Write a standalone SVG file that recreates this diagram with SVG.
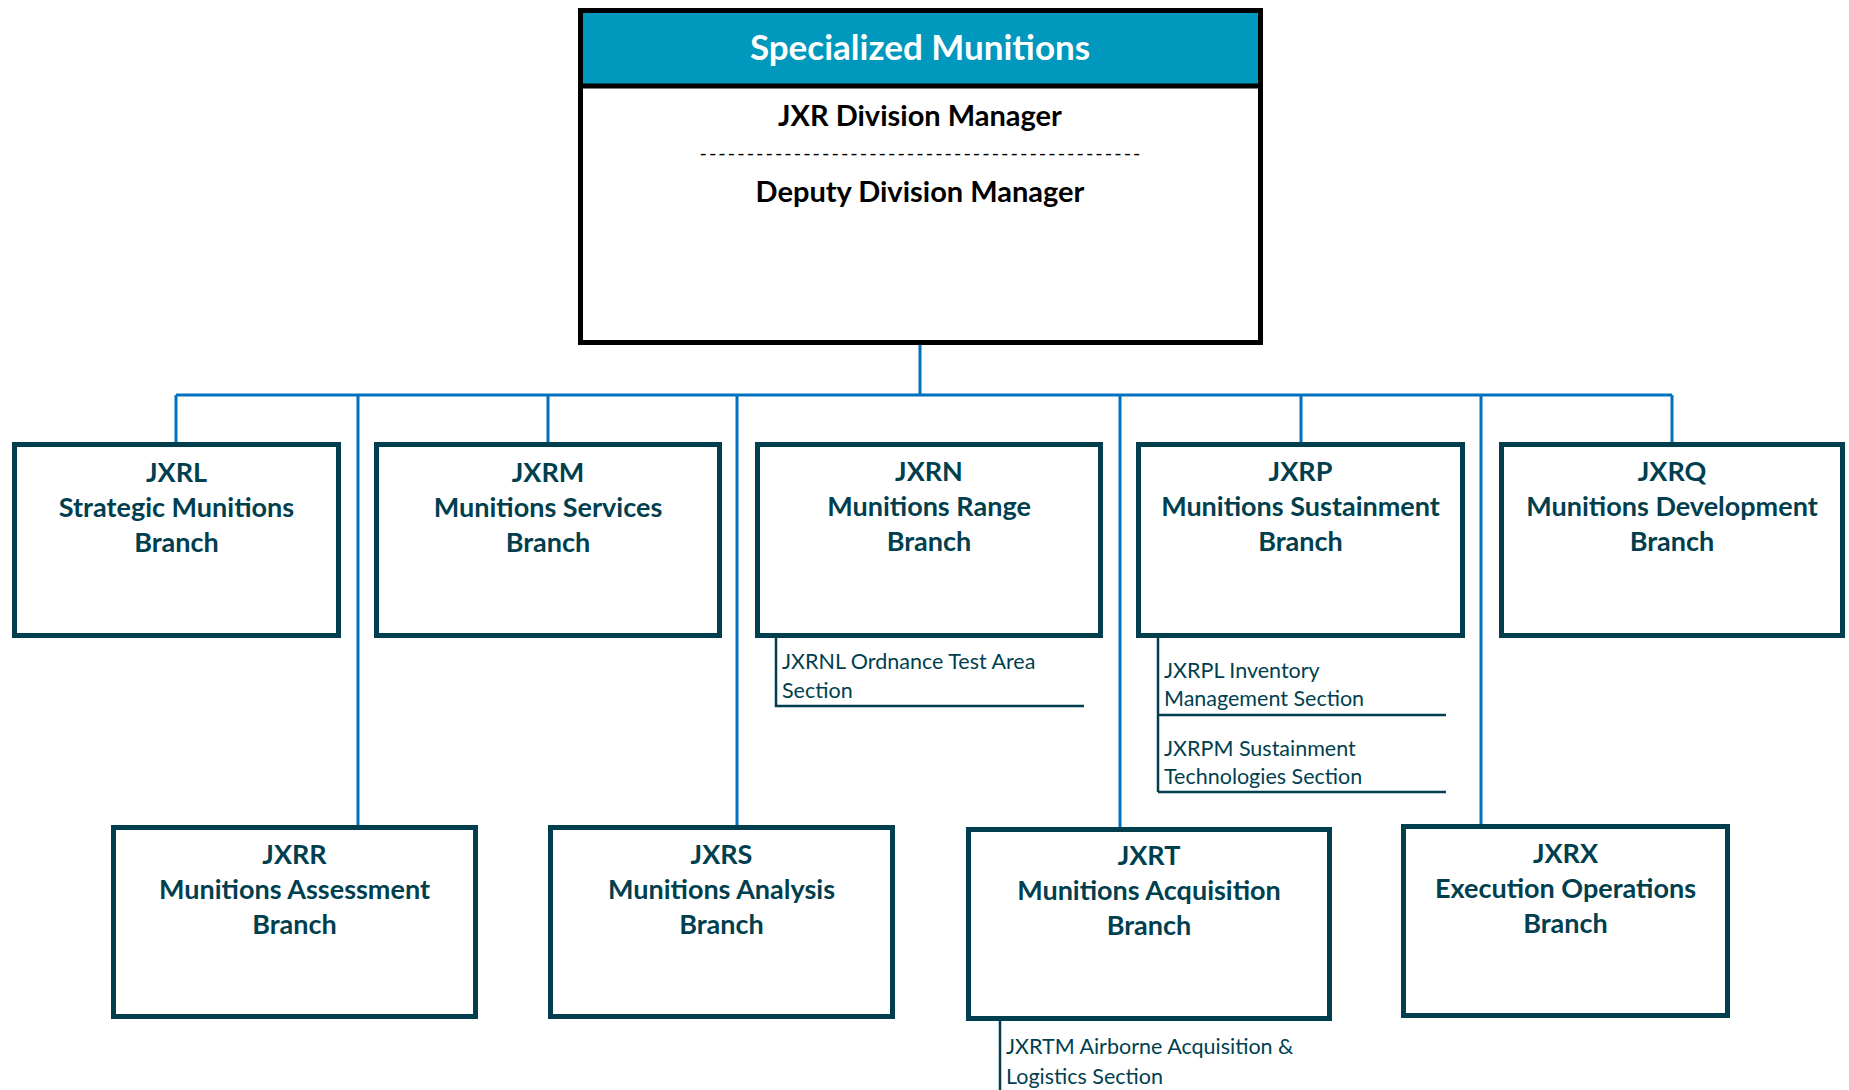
<svg xmlns="http://www.w3.org/2000/svg" width="1849" height="1090" viewBox="0 0 1849 1090">
<style>
.box{fill:#fff;stroke:#013F4F;stroke-width:5}
.t{font-family:Lato,"Liberation Sans",sans-serif;font-weight:bold;font-size:27px;fill:#013F4F;text-anchor:middle}
.s{font-family:Lato,"Liberation Sans",sans-serif;font-size:21.5px;fill:#013F4F}
.con{stroke:#0070C0;stroke-width:3;fill:none}
.br{stroke:#013F4F;stroke-width:2.5;fill:none}
.m{font-family:Lato,"Liberation Sans",sans-serif;font-weight:bold;font-size:29px;fill:#000;text-anchor:middle}
</style>
<rect width="1849" height="1090" fill="#fff"/>
<g id="connectors">
<path class="con" d="M920 345V395M176 395H1672M176 395V443M548 395V443M1301 395V443M1672 395V443M358 395V825M737 395V825M1120 395V827M1481 395V824"/>
</g>
<g id="top">
<rect x="580.5" y="10.5" width="680" height="332" fill="#fff" stroke="#000" stroke-width="5"/>
<rect x="583" y="13" width="675" height="73" fill="#0098BD"/>
<line x1="580" y1="86" x2="1261" y2="86" stroke="#000" stroke-width="5"/>
<text x="920" y="60" font-family="Lato,'Liberation Sans',sans-serif" font-weight="bold" font-size="35" fill="#fff" text-anchor="middle">Specialized Munitions</text>
<text class="m" x="920" y="126">JXR Division Manager</text>
<text x="920" y="160" font-family="Lato,'Liberation Sans',sans-serif" font-size="20" fill="#000" text-anchor="middle" textLength="441" lengthAdjust="spacing">-----------------------------------------------</text>
<text class="m" x="920" y="202">Deputy Division Manager</text>
</g>
<g id="JXRL">
<rect class="box" x="14.5" y="444.5" width="324" height="191"/>
<text class="t" x="176.5" y="482">JXRL</text>
<text class="t" x="176.5" y="517">Strategic Munitions</text>
<text class="t" x="176.5" y="552">Branch</text>
</g>
<g id="JXRM">
<rect class="box" x="376.5" y="444.5" width="343" height="191"/>
<text class="t" x="548" y="482">JXRM</text>
<text class="t" x="548" y="517">Munitions Services</text>
<text class="t" x="548" y="552">Branch</text>
</g>
<g id="JXRN">
<rect class="box" x="757.5" y="444.5" width="343" height="191"/>
<text class="t" x="929" y="481">JXRN</text>
<text class="t" x="929" y="516">Munitions Range</text>
<text class="t" x="929" y="551">Branch</text>
</g>
<g id="JXRNL">
<path class="br" d="M776 637V706H1084"/>
<text class="s" x="782" y="669">JXRNL Ordnance Test Area</text>
<text class="s" x="782" y="698">Section</text>
</g>
<g id="JXRP">
<rect class="box" x="1138.5" y="444.5" width="324" height="191"/>
<text class="t" x="1300.5" y="481">JXRP</text>
<text class="t" x="1300.5" y="516">Munitions Sustainment</text>
<text class="t" x="1300.5" y="551">Branch</text>
</g>
<g id="JXRPL">
<path class="br" d="M1158 638V792M1158 715H1446M1158 792H1446"/>
<text class="s" x="1164" y="678">JXRPL Inventory</text>
<text class="s" x="1164" y="706">Management Section</text>
</g>
<g id="JXRPM">
<text class="s" x="1164" y="756">JXRPM Sustainment</text>
<text class="s" x="1164" y="784">Technologies Section</text>
</g>
<g id="JXRQ">
<rect class="box" x="1501.5" y="444.5" width="341" height="191"/>
<text class="t" x="1672" y="481">JXRQ</text>
<text class="t" x="1672" y="516">Munitions Development</text>
<text class="t" x="1672" y="551">Branch</text>
</g>
<g id="JXRR">
<rect class="box" x="113.5" y="827.5" width="362" height="189"/>
<text class="t" x="294.5" y="864">JXRR</text>
<text class="t" x="294.5" y="899">Munitions Assessment</text>
<text class="t" x="294.5" y="934">Branch</text>
</g>
<g id="JXRS">
<rect class="box" x="550.5" y="827.5" width="342" height="189"/>
<text class="t" x="721.5" y="864">JXRS</text>
<text class="t" x="721.5" y="899">Munitions Analysis</text>
<text class="t" x="721.5" y="934">Branch</text>
</g>
<g id="JXRT">
<rect class="box" x="968.5" y="829.5" width="361" height="189"/>
<text class="t" x="1149" y="865">JXRT</text>
<text class="t" x="1149" y="900">Munitions Acquisition</text>
<text class="t" x="1149" y="935">Branch</text>
</g>
<g id="JXRTM">
<path class="br" d="M1000 1020V1090"/>
<text class="s" x="1006" y="1054">JXRTM Airborne Acquisition &amp;</text>
<text class="s" x="1006" y="1084">Logistics Section</text>
</g>
<g id="JXRX">
<rect class="box" x="1403.5" y="826.5" width="324" height="189"/>
<text class="t" x="1565.5" y="863">JXRX</text>
<text class="t" x="1565.5" y="898">Execution Operations</text>
<text class="t" x="1565.5" y="933">Branch</text>
</g>
</svg>
